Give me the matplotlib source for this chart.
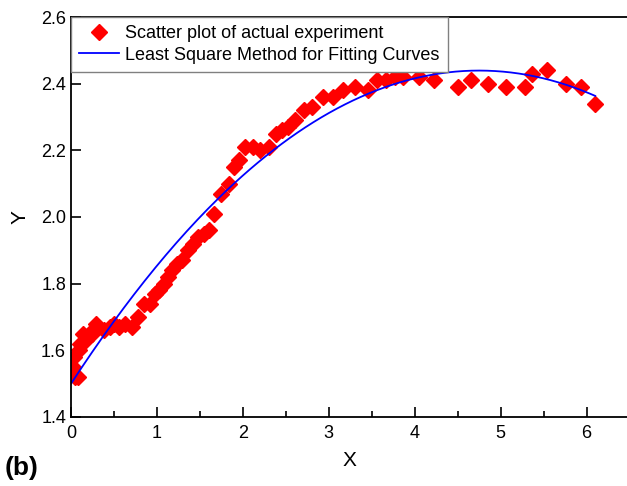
import matplotlib
matplotlib.use("Agg")
import matplotlib.pyplot as plt
import numpy as np

plt.rcParams["font.family"] = ["Liberation Sans", "DejaVu Sans"]

x_data = [0.02, 0.03, 0.05, 0.08, 0.09, 0.11, 0.14, 0.17, 0.21, 0.25, 0.29,
          0.38, 0.45, 0.50, 0.56, 0.63, 0.71, 0.78, 0.85, 0.92, 0.98, 1.03,
          1.08, 1.13, 1.18, 1.23, 1.29, 1.36, 1.42, 1.48, 1.55, 1.61, 1.66,
          1.75, 1.84, 1.90, 1.95, 2.03, 2.12, 2.20, 2.30, 2.38, 2.45, 2.52,
          2.61, 2.71, 2.81, 2.93, 3.05, 3.16, 3.31, 3.46, 3.56, 3.66, 3.77,
          3.86, 4.05, 4.23, 4.50, 4.65, 4.85, 5.06, 5.28, 5.36, 5.54, 5.76,
          5.93, 6.10]
y_data = [1.55, 1.58, 1.52, 1.52, 1.60, 1.62, 1.65, 1.63, 1.65, 1.65, 1.68,
          1.66, 1.67, 1.68, 1.67, 1.68, 1.67, 1.70, 1.74, 1.74, 1.77, 1.78,
          1.80, 1.82, 1.84, 1.86, 1.87, 1.90, 1.92, 1.94, 1.95, 1.96, 2.01,
          2.07, 2.10, 2.15, 2.17, 2.21, 2.21, 2.20, 2.21, 2.25, 2.26, 2.27,
          2.29, 2.32, 2.33, 2.36, 2.36, 2.38, 2.39, 2.38, 2.41, 2.41, 2.42,
          2.42, 2.42, 2.41, 2.39, 2.41, 2.40, 2.39, 2.39, 2.43, 2.44, 2.40,
          2.39, 2.34]

LEGEND_SCATTER = "Scatter plot of actual experiment"
LEGEND_FIT = "Least Square Method for Fitting Curves"


def main():
    x = np.array(x_data)
    y = np.array(y_data)
    # least-squares quadratic through the measured points
    coeffs = np.polyfit(x, y, 2)
    x_fit = np.linspace(0, x.max(), 200)
    y_fit = np.polyval(coeffs, x_fit)

    fig = plt.figure(figsize=(6.27, 4.86), dpi=100)
    ax = fig.add_axes([0.1132, 0.142, 0.8868, 0.823])

    ax.plot(x, y, linestyle="none", marker="D", markersize=8.5,
            color="#ff0000", label=LEGEND_SCATTER)
    ax.plot(x_fit, y_fit, color="#0000ff", linewidth=1.3, label=LEGEND_FIT)

    ax.set_xlim(0, 6.47)
    ax.set_ylim(1.4, 2.6)
    ax.set_xticks(np.arange(0, 7, 1))
    ax.set_xticks(np.arange(0.5, 6.5, 1), minor=True)
    ax.set_yticks(np.arange(1.4, 2.61, 0.2))
    ax.yaxis.set_major_formatter(matplotlib.ticker.FormatStrFormatter("%.1f"))
    ax.xaxis.set_major_formatter(matplotlib.ticker.FormatStrFormatter("%d"))
    ax.tick_params(which="major", direction="in", length=7, width=1.2,
                   labelsize=13, top=False, right=False)
    ax.tick_params(which="minor", direction="in", length=4, width=1.2,
                   top=False, right=False)
    ax.tick_params(axis="x", pad=6)
    for side in ("left", "bottom", "top"):
        ax.spines[side].set_linewidth(1.3)
    ax.spines["right"].set_visible(False)

    ax.set_xlabel("X", fontsize=15, labelpad=6)
    ax.set_ylabel("Y", fontsize=15, labelpad=8)

    leg = ax.legend(loc="upper left", borderaxespad=0, fontsize=13,
                    fancybox=False, framealpha=1, edgecolor="#808080",
                    handlelength=2.2, borderpad=0.45, labelspacing=0.25,
                    handletextpad=0.35, numpoints=1)
    leg.get_frame().set_linewidth(1.0)

    fig.text(0.008, 0.022, "(b)", fontsize=19, fontweight="bold")

    fig.savefig("out.png", dpi=100)
    plt.close(fig)


if __name__ == "__main__":
    main()
